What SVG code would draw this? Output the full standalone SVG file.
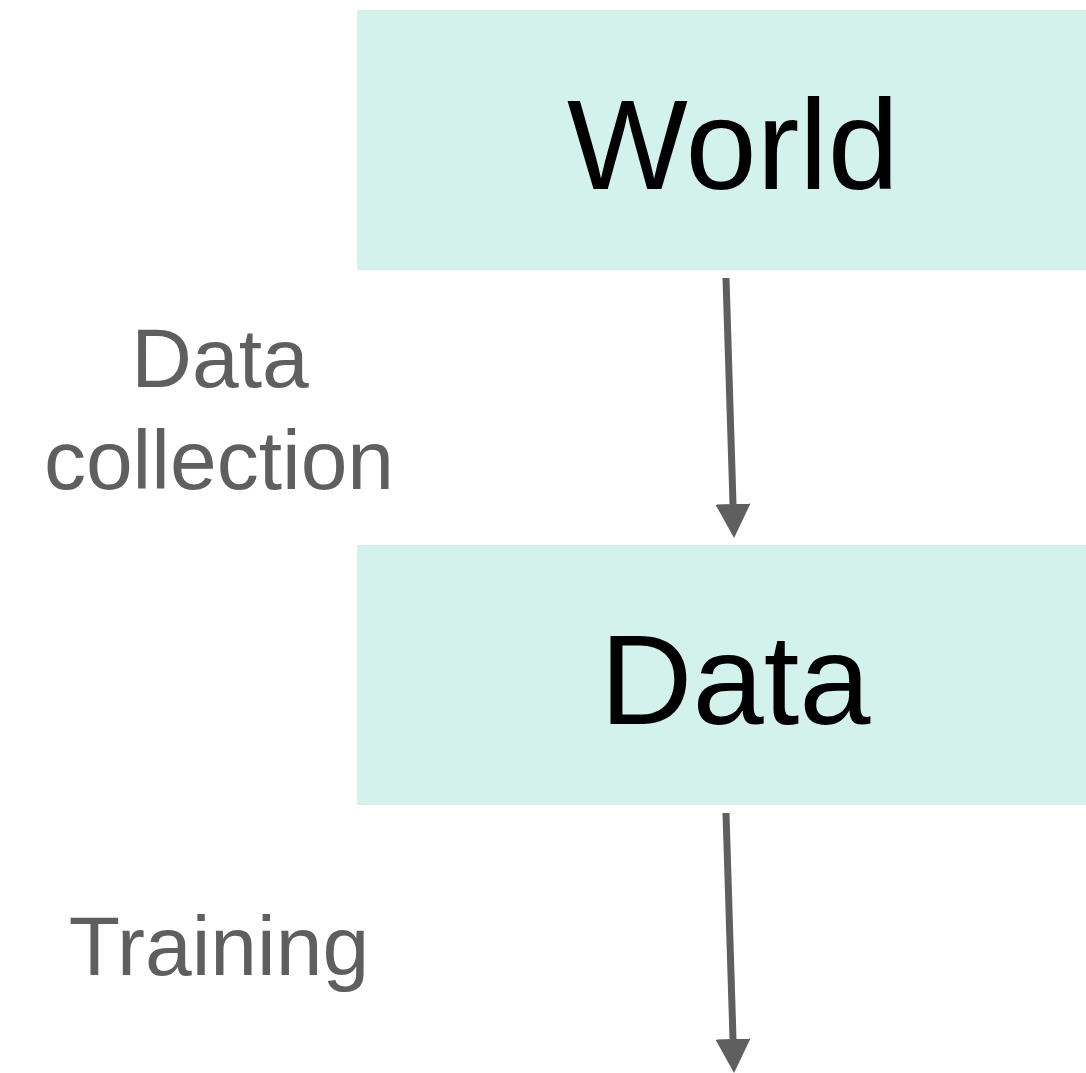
<svg xmlns="http://www.w3.org/2000/svg" width="1086" height="1073" viewBox="0 0 1086 1073">
  <style>
    .box { fill: #d4f2ec; }
    .title { font-family: "Liberation Sans", Arial, sans-serif; font-size: 128px; fill: #000000; }
    .label { font-family: "Liberation Sans", Arial, sans-serif; font-size: 84px; fill: #5f5f5f; text-anchor: middle; }
    .edge { stroke: #5f5f5f; stroke-width: 7; fill: none; }
  </style>
  <defs>
    <marker id="arrow" markerUnits="userSpaceOnUse" viewBox="0 0 34 35" refX="0" refY="17.5" markerWidth="34" markerHeight="35" orient="auto">
      <path d="M0,0 L34,17.5 L0,35 Z" fill="#5f5f5f"/>
    </marker>
  </defs>
  <rect width="1086" height="1073" fill="#ffffff"/>

  <g id="node-world">
    <rect class="box" x="357" y="10" width="740" height="260"/>
    <text class="title" x="567" y="189">World</text>
  </g>

  <g id="node-data">
    <rect class="box" x="357" y="545" width="740" height="260"/>
    <text class="title" x="600" y="724">Data</text>
  </g>

  <g id="connectors">
    <path class="edge" d="M726,278 L733,504" marker-end="url(#arrow)"/>
    <path class="edge" d="M726,813 L733,1039" marker-end="url(#arrow)"/>
    <text class="label" x="220" y="387">Data</text>
    <text class="label" x="219" y="489">collection</text>
    <text class="label" x="219" y="975">Training</text>
  </g>
</svg>
